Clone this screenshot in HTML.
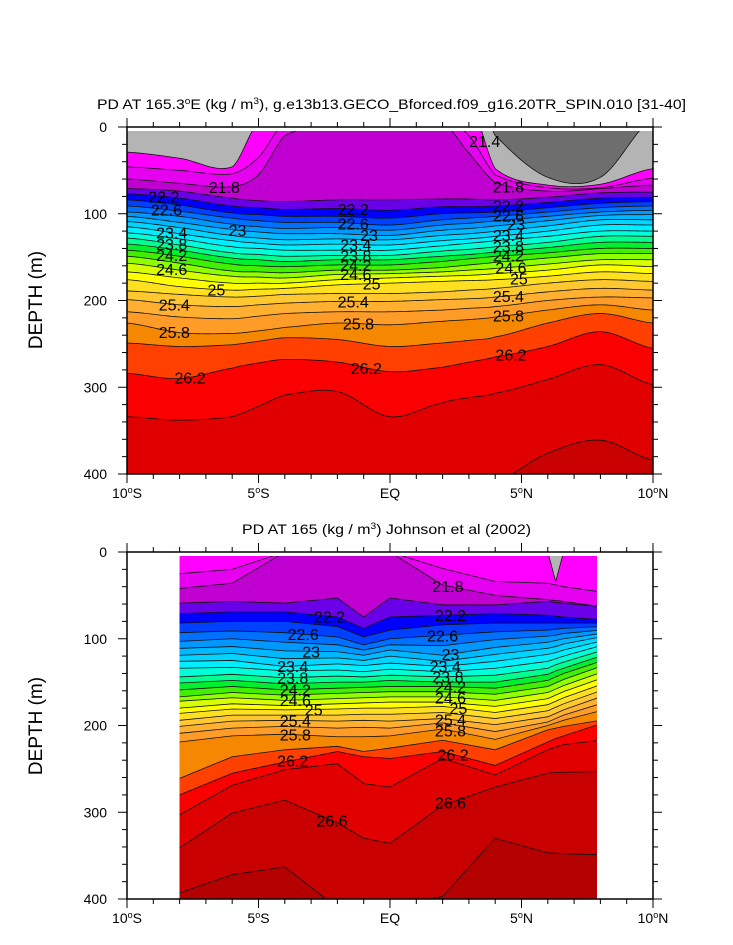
<!DOCTYPE html>
<html><head><meta charset="utf-8"><style>
html,body{margin:0;padding:0;background:#fff;}
svg{display:block;font-family:"Liberation Sans",Arial,sans-serif;}
</style></head><body>
<svg id="chart" width="733" height="945" viewBox="0 0 733 945" xmlns="http://www.w3.org/2000/svg">
<defs>
<clipPath id="clipTop"><rect x="127" y="131" width="526" height="343"/></clipPath>
<clipPath id="clipBot"><rect x="179" y="556" width="418" height="343"/></clipPath>
</defs>
<g id="topPlot"></g>
<g id="botPlot"></g>
<text x="97" y="109" font-size="14" textLength="589" lengthAdjust="spacingAndGlyphs">PD AT 165.3<tspan baseline-shift="super" font-size="9">o</tspan>E (kg / m<tspan baseline-shift="super" font-size="9">3</tspan>), g.e13b13.GECO_Bforced.f09_g16.20TR_SPIN.010 [31-40]</text>
<text x="242" y="534" font-size="14" textLength="289" lengthAdjust="spacingAndGlyphs">PD AT 165 (kg / m<tspan baseline-shift="super" font-size="9">3</tspan>) Johnson et al (2002)</text>
<text transform="translate(42,300) rotate(-90)" text-anchor="middle" font-size="19">DEPTH (m)</text>
<text transform="translate(42,726) rotate(-90)" text-anchor="middle" font-size="19">DEPTH (m)</text>
</svg>
<script>
const TOP_LATS = [-10,-8,-6,-5,-4,-2,0,2,3,4,6,8,10];
const TOP_LEVELS = [21.2,21.4,21.6,21.8,22.0,22.2,22.4,22.6,22.8,23.0,23.2,23.4,23.6,23.8,24.0,24.2,24.4,24.6,24.8,25.0,25.2,25.4,25.6,25.8,26.0,26.2,26.4,26.6];
const TOP_DEPTHS = [
[0,0,0,0,0,0,0,-10,-60,10,58,58,-10],
[29,36,46,-5,0,0,0,0,-30,48,67,66,48],
[46,50,54,35,-5,0,0,-10,10,55,70,70,59],
[60,65,69,55,10,-5,0,-5,30,64,74,71,67],
[71,74,82,85,86,84,84,83,83,84,81,76,75],
[77,82,91,93,95,94,96,92,92,91,87,82,81],
[84,90,99,101,103,103,105,100,99,98,93,88,86],
[91,97,105,108,110,110,113,107,105,103,98,93,91],
[98,103,112,115,117,116,119,113,111,108,103,98,96],
[103,110,118,121,123,123,125,119,117,114,108,102,101],
[109,116,125,128,130,129,130,125,123,120,114,107,107],
[115,123,131,134,136,135,136,131,129,126,120,113,113],
[122,129,138,140,142,142,142,137,134,131,126,120,120],
[128,136,145,147,149,148,148,143,141,138,133,126,126],
[135,142,151,153,155,153,153,149,147,144,139,133,133],
[142,149,158,160,161,159,159,155,152,149,145,140,140],
[149,157,166,167,168,165,165,162,159,156,151,146,146],
[157,165,172,173,174,170,169,167,165,163,158,153,153],
[167,174,180,180,180,176,174,172,171,169,165,159,161],
[176,184,188,187,186,182,180,178,177,176,172,167,169],
[189,193,196,195,193,192,192,190,188,186,180,176,178],
[199,205,207,205,203,201,201,199,198,196,190,186,188],
[213,219,221,218,215,213,213,211,209,207,200,196,197],
[226,237,238,235,231,226,228,224,222,219,211,205,211],
[249,253,251,247,243,245,253,249,246,242,226,215,226],
[284,290,278,272,268,271,282,277,271,265,253,236,255],
[334,338,334,322,309,305,334,318,312,307,291,274,297],
[420,420,420,420,420,420,420,420,420,410,376,361,384]
];
const TOP_LABEL_LEVELS = [22.2,22.6,21.8,23,23.4,23.8,24.2,24.6,25,25.4,25.8,26.2,22.2,22.6,23,23.4,23.8,24.2,24.6,25,25.4,25.8,26.2,21.4,21.8,22.2,22.6,23,23.4,23.8,24.2,24.6,25,25.4,25.8,26.2];
const TOP_LABEL_LATS = [-8.6,-8.5,-6.3,-5.8,-8.3,-8.3,-8.3,-8.3,-6.6,-8.2,-8.2,-7.6,-1.4,-1.4,-0.8,-1.3,-1.3,-1.3,-1.3,-0.7,-1.4,-1.2,-0.9,3.6,4.5,4.5,4.5,4.8,4.5,4.5,4.5,4.6,4.9,4.5,4.5,4.6];

const BOT_LATS = [-8,-6,-4,-2,-1,0,2,4,6,6.3,6.6,8];
const BOT_LEVELS = [21.4,21.6,21.8,22.0,22.2,22.4,22.6,22.8,23.0,23.2,23.4,23.6,23.8,24.0,24.2,24.4,24.6,24.8,25.0,25.2,25.4,25.6,25.8,26.0,26.2,26.4,26.6,26.8];
const BOT_DEPTHS = [
[0,0,0,0,0,0,0,0,0,34,0,0],
[25,20,0,0,0,0,19,34,36,38,40,46],
[42,36,0,0,0,0,38,50,55,56,57,63],
[59,57,59,53,75,53,61,61,57,58,59,63],
[71,69,69,75,88,75,73,71,73,74,75,78],
[82,80,80,86,98,90,84,82,82,82,82,82],
[93,91,93,98,107,100,96,92,90,89,88,86],
[103,100,104,107,113,107,108,101,97,96,94,90],
[111,109,114,115,119,113,119,110,104,102,100,94],
[119,117,123,122,125,120,126,118,111,109,106,98],
[126,125,132,129,131,128,132,126,118,116,113,103],
[134,133,137,136,138,135,138,134,126,123,120,108],
[144,141,145,143,144,142,144,142,134,130,127,114],
[151,148,152,150,150,148,150,150,141,137,134,120],
[159,155,159,157,156,155,155,157,148,144,140,126],
[167,162,165,163,162,161,161,164,155,151,147,132],
[172,168,171,169,168,167,167,171,162,158,154,139],
[180,175,177,175,174,173,173,178,169,165,161,146],
[186,181,182,181,180,180,178,185,176,172,168,153],
[194,188,188,188,187,187,185,192,183,179,175,160],
[201,195,194,195,194,195,192,199,190,186,182,167],
[209,203,201,203,202,203,197,207,196,192,188,175],
[219,212,210,213,213,212,204,216,200,197,194,183],
[261,236,228,224,230,226,217,228,205,203,201,194],
[280,255,242,230,236,238,230,246,219,215,212,198],
[303,269,251,244,267,271,238,257,228,225,222,217],
[341,301,286,312,330,336,292,271,255,254,254,253],
[393,372,363,420,420,420,397,330,347,347,348,349]
];
const BOT_LABEL_LEVELS = [22.2,22.6,23,23.4,23.8,24.2,24.6,25,25.4,25.8,26.2,26.6,21.8,22.2,22.6,23,23.4,23.8,24.2,24.6,25,25.4,25.8,26.2,26.6];
const BOT_LABEL_LATS = [-2.3,-3.3,-3.0,-3.7,-3.7,-3.6,-3.6,-2.9,-3.6,-3.6,-3.7,-2.2,2.2,2.3,2.0,2.3,2.1,2.2,2.3,2.3,2.6,2.3,2.3,2.4,2.3];

const X_TICKS = [-10,-5,0,5,10];
const X_TICK_LABELS = ["10|S","5|S","EQ","5|N","10|N"];
const Y_TICKS = [0,100,200,300,400];

const COLORS = {"21.2":"#b4b4b4","21.4":"#ff00ff","21.6":"#e600f0","21.8":"#c000d0","22.0":"#6a00e8","22.2":"#0000ff","22.4":"#0040ff","22.6":"#0070ff","22.8":"#0098ff","23.0":"#00b8ff","23.2":"#00d4ff","23.4":"#00eeff","23.6":"#00ffd8","23.8":"#00ff90","24.0":"#00f030","24.2":"#40f000","24.4":"#90ff00","24.6":"#d8ff00","24.8":"#ffff00","25.0":"#ffe020","25.2":"#ffc830","25.4":"#ffb030","25.6":"#ff9c28","25.8":"#f58800","26.0":"#ff4000","26.2":"#fa0000","26.4":"#e00000","26.6":"#c80000","26.8":"#b40000"};

const NS = "http://www.w3.org/2000/svg";
const X0 = 127, PX_PER_DEG = 26.3, PX_PER_M = 0.8675;
function xOf(lat){ return X0 + (lat + 10) * PX_PER_DEG; }
function yOf(top, d){ return top + d * PX_PER_M; }
function mk(tag, attrs, parent){ const e = document.createElementNS(NS, tag); for (const k in attrs) e.setAttribute(k, attrs[k]); parent.appendChild(e); return e; }

function sampleCurve(lats, depths, smooth){
  const pts = [];
  const n = lats.length;
  for (let i = 0; i < n - 1; i++){
    const steps = smooth ? 20 : 1;
    for (let s = 0; s < steps; s++){
      const t = s / steps;
      const lat = lats[i] + (lats[i+1] - lats[i]) * t;
      let d;
      if (smooth){
        const p0 = depths[Math.max(i-1,0)], p1 = depths[i], p2 = depths[i+1], p3 = depths[Math.min(i+2,n-1)];
        d = 0.5*((2*p1) + (-p0+p2)*t + (2*p0-5*p1+4*p2-p3)*t*t + (-p0+3*p1-3*p2+p3)*t*t*t);
      } else d = depths[i] + (depths[i+1]-depths[i]) * t;
      pts.push([lat, Math.max(-5, Math.min(410, d))]);
    }
  }
  pts.push([lats[n-1], Math.max(-5, Math.min(410, depths[n-1]))]);
  return pts;
}
function depthAt(pts, lat){
  for (let i = 0; i < pts.length - 1; i++){
    if (lat >= pts[i][0] && lat <= pts[i+1][0]){
      const f = (lat - pts[i][0]) / (pts[i+1][0] - pts[i][0] || 1);
      return pts[i][1] + (pts[i+1][1] - pts[i][1]) * f;
    }
  }
  return pts[pts.length-1][1];
}
function colorFor(level){ return COLORS[level.toFixed(1)]; }

function drawPanel(g, top, lats, levels, depths, smooth, baseColor, clipId, labelLevels, labelLats, xMin, xMax){
  const data = mk('g', {'clip-path':'url(#'+clipId+')'}, g);
  const bg = mk('rect', {x:xOf(xMin), y:top, width:xOf(xMax)-xOf(xMin), height:400*PX_PER_M, fill:baseColor}, data);
  
  
  const curves = depths.map(row => sampleCurve(lats, row, smooth));
  const bottomY = yOf(top, 420);
  curves.forEach((pts, i) => {
    let d = 'M' + xOf(pts[0][0]) + ',' + bottomY;
    pts.forEach(p => { d += ' L' + xOf(p[0]).toFixed(2) + ',' + yOf(top, p[1]).toFixed(2); });
    d += ' L' + xOf(pts[pts.length-1][0]) + ',' + bottomY + ' Z';
    const band = mk('path', {d:d, fill:colorFor(levels[i]), stroke:'none'}, data);
    
    
  });
  curves.forEach((pts, i) => {
    let d = '';
    pts.forEach((p, j) => { d += (j ? ' L' : 'M') + xOf(p[0]).toFixed(2) + ',' + yOf(top, p[1]).toFixed(2); });
    const line = mk('path', {d:d, fill:'none', stroke:'#111', 'stroke-width':'0.8'}, data);
    
    
  });
  labelLevels.forEach((lv, k) => {
    const idx = levels.findIndex(L => Math.abs(L - lv) < 1e-6);
    if (idx < 0) return;
    const dep = depthAt(curves[idx], labelLats[k]);
    const t = mk('text', {x:xOf(labelLats[k]).toFixed(1), y:(yOf(top, dep)+6).toFixed(1), 'text-anchor':'middle', 'font-size':'16', fill:'#000'}, g);
    t.textContent = String(lv);
    
    
  });
  const frame = mk('rect', {x:127, y:top, width:526, height:400*PX_PER_M, fill:'none', stroke:'#000', 'stroke-width':'1.5'}, g);
  
  
  const bot = top + 400*PX_PER_M;
  for (let lat = -10; lat <= 10; lat++){
    const major = X_TICKS.indexOf(lat) >= 0;
    const len = major ? 9 : 5;
    const x = xOf(lat);
    mk('line', {x1:x, y1:bot, x2:x, y2:bot+len, stroke:'#000', 'stroke-width':'1'}, g);
    mk('line', {x1:x, y1:top, x2:x, y2:top-len, stroke:'#000', 'stroke-width':'1'}, g);
  }
  X_TICKS.forEach((lat, k) => {
    const parts = X_TICK_LABELS[k].split('|');
    const t = mk('text', {x:xOf(lat), y:bot+24, 'text-anchor':'middle', 'font-size':'14'}, g);
    
    
    if (parts.length === 2){
      t.appendChild(document.createTextNode(parts[0]));
      const s = document.createElementNS(NS, 'tspan');
      s.setAttribute('baseline-shift', 'super'); s.setAttribute('font-size', '9'); s.textContent = 'o';
      t.appendChild(s);
      t.appendChild(document.createTextNode(parts[1]));
    } else t.textContent = parts[0];
  });
  for (let dep = 0; dep <= 400; dep += 20){
    const major = Y_TICKS.indexOf(dep) >= 0;
    const len = major ? 9 : 5;
    const y = yOf(top, dep);
    mk('line', {x1:127, y1:y, x2:127-len, y2:y, stroke:'#000', 'stroke-width':'1'}, g);
    mk('line', {x1:653, y1:y, x2:653+len, y2:y, stroke:'#000', 'stroke-width':'1'}, g);
  }
  Y_TICKS.forEach(dep => {
    const t = mk('text', {x:107, y:yOf(top, dep)+5, 'text-anchor':'end', 'font-size':'14'}, g);
    t.textContent = String(dep);
    
    
  });
}
drawPanel(document.getElementById('topPlot'), 127, TOP_LATS, TOP_LEVELS, TOP_DEPTHS, true, '#6e6e6e', 'clipTop', TOP_LABEL_LEVELS, TOP_LABEL_LATS, -10, 10);
drawPanel(document.getElementById('botPlot'), 552, BOT_LATS, BOT_LEVELS, BOT_DEPTHS, false, '#b4b4b4', 'clipBot', BOT_LABEL_LEVELS, BOT_LABEL_LATS, -8, 8);
</script>
</body></html>
